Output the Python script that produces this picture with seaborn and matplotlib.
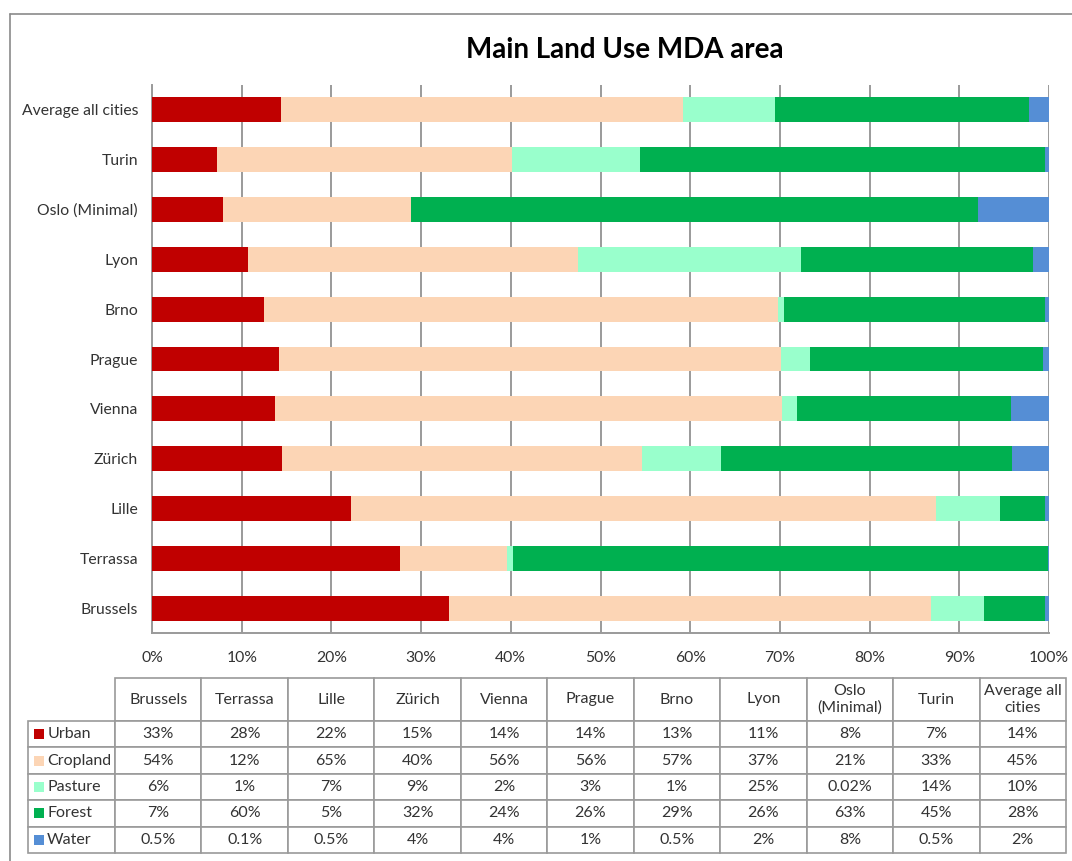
import numpy as np
import pandas as pd
import matplotlib
matplotlib.use('Agg')
import matplotlib.pyplot as plt
import matplotlib.patches as mpatches
from matplotlib.lines import Line2D
from matplotlib.ticker import PercentFormatter
import seaborn as sns

# cities in table order (bottom bar first)
cities = ['Brussels', 'Terrassa', 'Lille', 'Zürich', 'Vienna', 'Prague', 'Brno',
          'Lyon', 'Oslo (Minimal)', 'Turin', 'Average all cities']
header_labels = ['Brussels', 'Terrassa', 'Lille', 'Zürich', 'Vienna', 'Prague', 'Brno',
                 'Lyon', 'Oslo\n(Minimal)', 'Turin', 'Average all\ncities']
land_uses = ['Urban', 'Cropland', 'Pasture', 'Forest', 'Water']
colors = ['#C00000', '#FCD5B5', '#99FFCC', '#00B050', '#558ED5']

# shares (%)
urban = [33.1, 27.7, 22.2, 14.5, 13.7, 14.2, 12.5, 10.7, 7.9, 7.2, 14.4]
cropland = [53.8, 11.9, 65.2, 40.1, 56.5, 55.9, 57.3, 36.8, 21.0, 32.9, 44.8]
pasture = [5.9, 0.6, 7.1, 8.8, 1.7, 3.3, 0.7, 24.8, 0.02, 14.3, 10.2]
forest = [6.8, 59.7, 5.1, 32.5, 23.9, 25.9, 29.1, 25.9, 63.2, 45.2, 28.4]
water = [0.4, 0.1, 0.4, 4.1, 4.2, 0.7, 0.4, 1.8, 7.9, 0.4, 2.2]

# numbers as printed in the data table
table_urban = ['33%', '28%', '22%', '15%', '14%', '14%', '13%', '11%', '8%', '7%', '14%']
table_cropland = ['54%', '12%', '65%', '40%', '56%', '56%', '57%', '37%', '21%', '33%', '45%']
table_pasture = ['6%', '1%', '7%', '9%', '2%', '3%', '1%', '25%', '0.02%', '14%', '10%']
table_forest = ['7%', '60%', '5%', '32%', '24%', '26%', '29%', '26%', '63%', '45%', '28%']
table_water = ['0.5%', '0.1%', '0.5%', '4%', '4%', '1%', '0.5%', '2%', '8%', '0.5%', '2%']

sns.set_theme(style='white')
plt.rcParams['font.family'] = ['Lato', 'DejaVu Sans']
text_col = '#333333'
grid_col = '#9a9a9a'

df = pd.DataFrame({'city': cities, 'Urban': urban, 'Cropland': cropland,
                   'Pasture': pasture, 'Forest': forest, 'Water': water})
share = df[land_uses].div(df[land_uses].sum(axis=1), axis=0)
cum = share.cumsum(axis=1)
cum['city'] = df['city']

fig = plt.figure(figsize=(10.72, 8.61), dpi=100)
ax = fig.add_axes([152 / 1072, 1 - 633 / 861, 897 / 1072, 548 / 861])

# stacked bars: draw cumulative totals from the outermost segment inwards
for lu, col in reversed(list(zip(land_uses, colors))):
    sns.barplot(data=cum, x=lu, y='city', order=cities[::-1], orient='h',
                color=col, saturation=1, width=0.5, errorbar=None, ax=ax,
                linewidth=0, zorder=3)

ax.set_xlim(0, 1)
ax.set_xticks(np.arange(0, 1.01, 0.1))
ax.xaxis.set_major_formatter(PercentFormatter(1.0, decimals=0))
ax.set_xlabel('')
ax.set_ylabel('')
ax.grid(axis='x', color=grid_col, linewidth=1.4, zorder=0)
ax.set_axisbelow(True)
for s in ['top', 'right']:
    ax.spines[s].set_visible(False)
for s in ['left', 'bottom']:
    ax.spines[s].set_color(grid_col)
    ax.spines[s].set_linewidth(1.4)
ax.tick_params(axis='x', length=0, pad=13, labelsize=11.3, labelcolor=text_col)
ax.tick_params(axis='y', length=0, pad=10, labelsize=11.3, labelcolor=text_col)

fig.text(625 / 1072, 1 - 50 / 861, 'Main Land Use MDA area', ha='center', va='center',
         fontsize=20, fontweight='bold', color='black')

# data table under the bars; first column holds the land-use names
cell_text = [[lu] + vals for lu, vals in zip(
    land_uses, [table_urban, table_cropland, table_pasture, table_forest, table_water])]
header_h, row_h = 43, 26.4
col_w, label_w = 86.45, 87
tbl = ax.table(cellText=cell_text, colLabels=[''] + header_labels,
               colWidths=[label_w] + [col_w] * len(header_labels), cellLoc='center',
               bbox=[(28 - 152) / 897, -220 / 548, 1038 / 897, 175 / 548])
tbl.auto_set_font_size(False)
tbl.set_fontsize(11.5)
for (r, c), cell in tbl.get_celld().items():
    cell.set_edgecolor(grid_col)
    cell.set_linewidth(1.2)
    cell.get_text().set_color(text_col)
    cell.set_height(header_h if r == 0 else row_h)
    if c == 0:
        cell.get_text().set_horizontalalignment('left')
        cell.PAD = 0.22
        if r == 0:
            cell.visible_edges = 'open'

# colour keys in the row labels
for i, col in enumerate(colors):
    yc = 678 + header_h + row_h * (i + 0.5)
    ax.add_patch(mpatches.Rectangle(((34 - 152) / 897, (633 - yc - 5) / 548),
                                    10 / 897, 10 / 548, transform=ax.transAxes,
                                    facecolor=col, edgecolor='none', clip_on=False,
                                    zorder=5))

# outer chart frame (left and top edges visible)
fig.add_artist(Line2D([10 / 1072, 10 / 1072], [0, 1 - 14 / 861], color='#8a8a8a', lw=1.2))
fig.add_artist(Line2D([10 / 1072, 1], [1 - 14 / 861, 1 - 14 / 861], color='#8a8a8a', lw=1.2))

fig.savefig('out.png', dpi=100)
